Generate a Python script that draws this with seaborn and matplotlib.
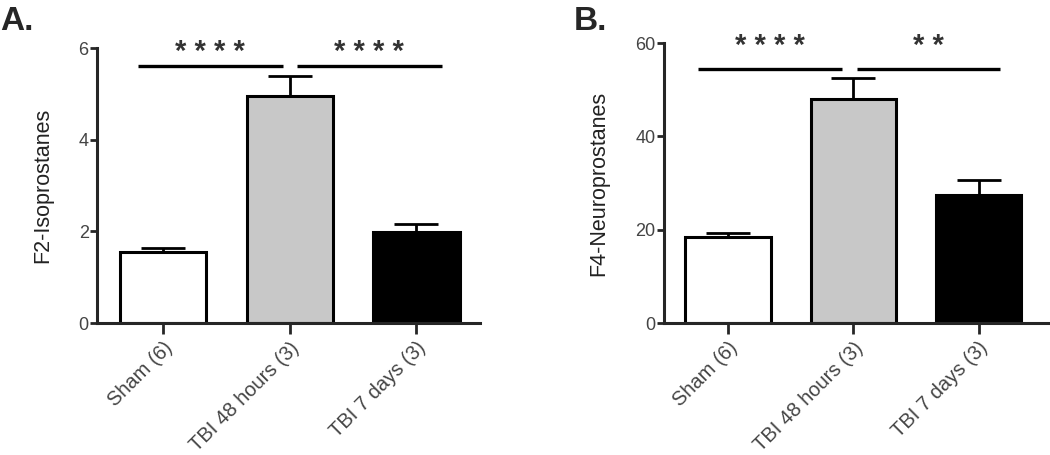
import matplotlib
matplotlib.use("Agg")
import matplotlib.pyplot as plt
import seaborn as sns
import pandas as pd

# Data
groups = ["Sham (6)", "TBI 48 hours (3)", "TBI 7 days (3)"]
f2_means = [1.55, 4.96, 1.98]
f2_sem = [0.08, 0.43, 0.18]
f4_means = [18.4, 48.0, 27.4]
f4_sem = [0.9, 4.5, 3.2]
bar_colors = ["white", "#c8c8c8", "black"]

sns.set_style("ticks")
plt.rcParams["font.family"] = ["Liberation Sans", "DejaVu Sans"]

fig = plt.figure(figsize=(10.5, 4.55), dpi=100)
axA = fig.add_axes([0.0924, 0.290, 0.3646, 0.6044])
axB = fig.add_axes([0.6324, 0.290, 0.3676, 0.6154])


def draw_panel(ax, means, sem, ylabel, yticks, ymax, xlim, sig, pad):
    df = pd.DataFrame({"group": groups, "value": means})
    sns.barplot(data=df, x="group", y="value", hue="group", palette=bar_colors,
                edgecolor="black", linewidth=2.2, width=0.68, legend=False,
                errorbar=None, ax=ax)
    ax.errorbar(range(len(groups)), means, yerr=[[0] * len(sem), sem],
                fmt="none", ecolor="black", elinewidth=2, capsize=16,
                capthick=2, zorder=1)
    ax.set_ylim(0, ymax)
    ax.set_xlim(*xlim)
    ax.set_yticks(yticks)
    ax.set_ylabel(ylabel, fontsize=15.5, labelpad=pad, color="#222222")
    ax.set_xlabel("")
    ax.tick_params(axis="y", labelsize=13, width=2, length=5, pad=1)
    ax.tick_params(axis="x", labelsize=14.5, width=2, length=8, pad=3)
    for lab in ax.get_yticklabels():
        lab.set_color("#444444")
    ax.set_xticks(range(len(groups)))
    ax.set_xticklabels(groups, rotation=45, ha="right", rotation_mode="anchor",
                       color="#444444")
    for side in ["top", "right"]:
        ax.spines[side].set_visible(False)
    ax.spines["left"].set_linewidth(2.2)
    ax.spines["bottom"].set_linewidth(2.2)
    for x0, x1, y, ystar, stars in sig:
        ax.plot([x0, x1], [y, y], color="black", lw=2.4, clip_on=False,
                solid_capstyle="butt")
        ax.text((x0 + x1) / 2, ystar, stars, ha="center", va="center",
                fontsize=21, fontweight="bold", color="#333333", clip_on=False)


draw_panel(axA, f2_means, f2_sem, "F2-Isoprostanes", [0, 2, 4, 6], 6,
           (-0.52, 2.5),
           [(-0.2, 0.945, 5.61, 5.92, "* * * *"), (1.055, 2.2, 5.61, 5.92, "* * * *")],
           18)
draw_panel(axB, f4_means, f4_sem, "F4-Neuroprostanes", [0, 20, 40, 60], 60,
           (-0.51, 2.57),
           [(-0.24, 0.91, 54.4, 59.4, "* * * *"), (1.03, 2.17, 54.4, 59.4, "* *")],
           19)

fig.text(0.0, 0.952, "A.", fontsize=24, fontweight="bold", va="center")
fig.text(0.546, 0.952, "B.", fontsize=24, fontweight="bold", va="center")

fig.savefig("out.png", dpi=100)
